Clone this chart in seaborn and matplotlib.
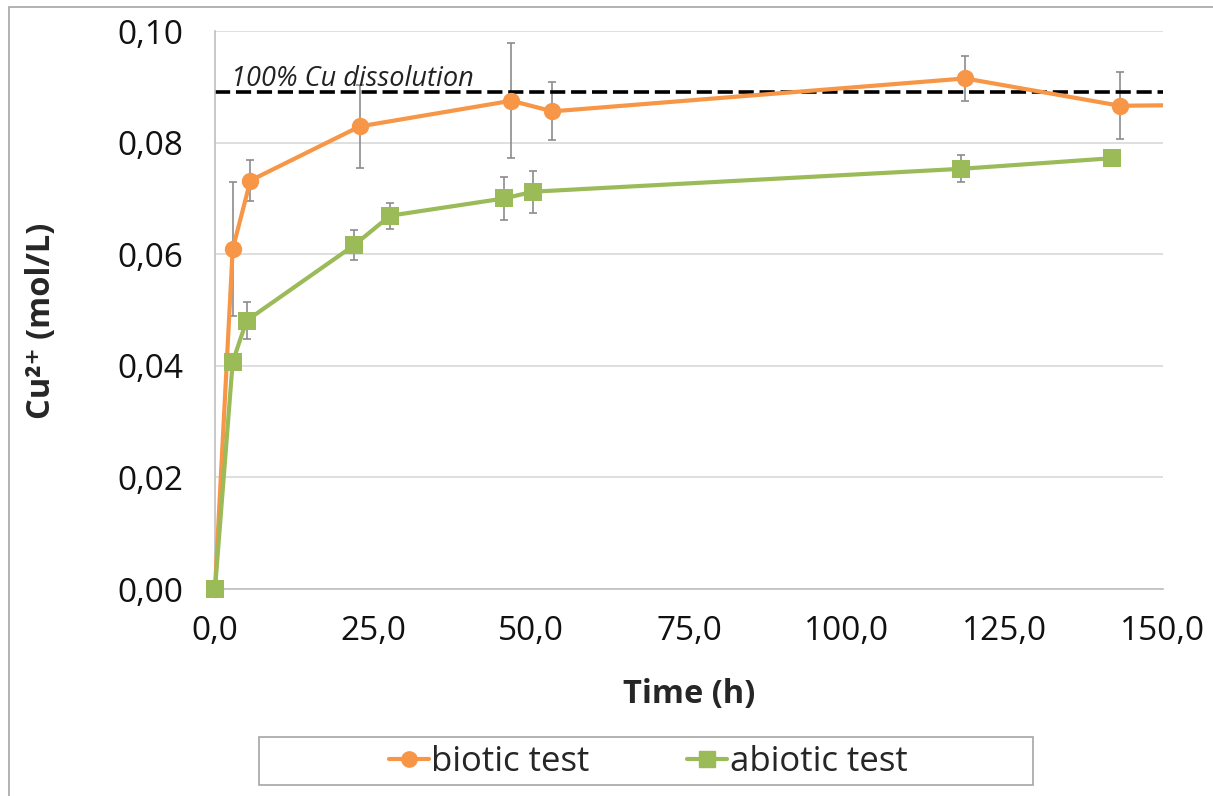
import matplotlib
matplotlib.use("Agg")
import matplotlib.pyplot as plt
import matplotlib.ticker as mticker
from matplotlib.lines import Line2D
from matplotlib.patches import Rectangle
from matplotlib.transforms import Bbox, TransformedBbox
import seaborn as sns
import pandas as pd

# biotic test
bio_time = [0.0, 2.8, 5.6, 22.9, 46.9, 53.4, 118.7, 143.2, 160.0]
bio_cu = [0.0, 0.0609, 0.0732, 0.0829, 0.0875, 0.0856, 0.0915, 0.0866, 0.0868]
bio_err = [0.0, 0.0120, 0.0036, 0.0075, 0.0103, 0.0052, 0.0040, 0.0060, 0.0]

# abiotic test
abio_time = [0.0, 2.8, 5.0, 22.0, 27.7, 45.8, 50.3, 118.0, 141.9]
abio_cu = [0.0, 0.0407, 0.0481, 0.0616, 0.0669, 0.0700, 0.0712, 0.0753, 0.0772]
abio_err = [0.0, 0.0008, 0.0033, 0.0027, 0.0023, 0.0038, 0.0038, 0.0024, 0.0]

full_dissolution = 0.089

ORANGE = "#F79646"
GREEN = "#9BBB59"

sns.set_style("white")
plt.rcParams["font.family"] = ["Open Sans", "DejaVu Sans"]

df = pd.concat([
    pd.DataFrame({"time": bio_time, "cu": bio_cu, "test": "biotic test"}),
    pd.DataFrame({"time": abio_time, "cu": abio_cu, "test": "abiotic test"}),
])

W, H = 1213, 796
fig = plt.figure(figsize=(W / 100, H / 100), dpi=100)
ax = fig.add_axes([215 / W, 1 - 589 / H, (1163 - 215) / W, (589 - 31) / H])

# outer chart border (only top/left visible in the crop)
fig.patches.append(Rectangle((9 / W, -0.1), 1.2, 1 - 7 / H + 0.1,
                             transform=fig.transFigure, fill=False,
                             edgecolor="#A6A6A6", lw=1.2))

# error bars
ax.errorbar(bio_time, bio_cu, yerr=bio_err, fmt="none", ecolor="#8C8C8C",
            elinewidth=1.2, capsize=3, capthick=1.2, zorder=2)
ax.errorbar(abio_time, abio_cu, yerr=abio_err, fmt="none", ecolor="#8C8C8C",
            elinewidth=1.2, capsize=3, capthick=1.2, zorder=2)

sns.lineplot(data=df, x="time", y="cu", hue="test", style="test",
             palette={"biotic test": ORANGE, "abiotic test": GREEN},
             markers={"biotic test": "o", "abiotic test": "s"},
             dashes=False, sort=False, estimator=None, lw=3.0,
             markersize=12.5, markeredgewidth=0, ax=ax, legend=False, zorder=3)

# let markers at t=0 / y=0 spill over the axis edge, but keep the right edge clipped
clip = TransformedBbox(Bbox([[-0.05, -0.05], [1.0, 1.05]]), ax.transAxes)
for ln in ax.lines:
    ln.set_clip_box(clip)

ax.axhline(full_dissolution, color="black", ls=(0, (4.2, 1.6)), lw=2.6, zorder=2.5)
ax.text(2.6, 0.0901, "100% Cu dissolution", style="italic", fontsize=19.5,
        color="#222222", ha="left", va="baseline")

ax.set_xlim(0, 150)
ax.set_ylim(0, 0.10)
ax.xaxis.set_major_locator(mticker.MultipleLocator(25))
ax.yaxis.set_major_locator(mticker.MultipleLocator(0.02))
ax.xaxis.set_major_formatter(mticker.FuncFormatter(lambda v, p: f"{v:.1f}".replace(".", ",")))
ax.yaxis.set_major_formatter(mticker.FuncFormatter(lambda v, p: f"{v:.2f}".replace(".", ",")))

ax.grid(axis="y", color="#D9D9D9", lw=1.2)
ax.set_axisbelow(True)
for s in ["top", "right"]:
    ax.spines[s].set_visible(False)
for s in ["left", "bottom"]:
    ax.spines[s].set_color("#BFBFBF")
    ax.spines[s].set_linewidth(1.2)
ax.tick_params(axis="both", direction="out", length=8, width=1.2, color="#BFBFBF",
               labelsize=24, labelcolor="#111111")
ax.tick_params(axis="y", pad=15)
ax.tick_params(axis="x", pad=11)

ax.set_xlabel("Time (h)", fontsize=23.5, fontweight="bold")
ax.set_ylabel("Cu²⁺ (mol/L)", fontsize=23.5, fontweight="bold")
ax.xaxis.set_label_coords(0.5, (589 - 678) / 558)
ax.yaxis.set_label_coords((58 - 215) / 948, 0.48)

# legend box
fig.patches.append(Rectangle((259 / W, 1 - 785 / H), (1033 - 259) / W, 48 / H,
                             transform=fig.transFigure, fill=False,
                             edgecolor="#A6A6A6", lw=1.2))
handles = [
    Line2D([], [], color=ORANGE, marker="o", lw=3.0, markersize=11),
    Line2D([], [], color=GREEN, marker="s", lw=3.0, markersize=11),
]
fig.legend(handles, ["biotic test", "abiotic test"], ncol=2,
           loc="center", bbox_to_anchor=(648 / W, 1 - 762 / H),
           fontsize=25, frameon=False, handlelength=1.15, handletextpad=0.08,
           columnspacing=2.8, borderpad=0)

fig.savefig("out.png", dpi=100)
